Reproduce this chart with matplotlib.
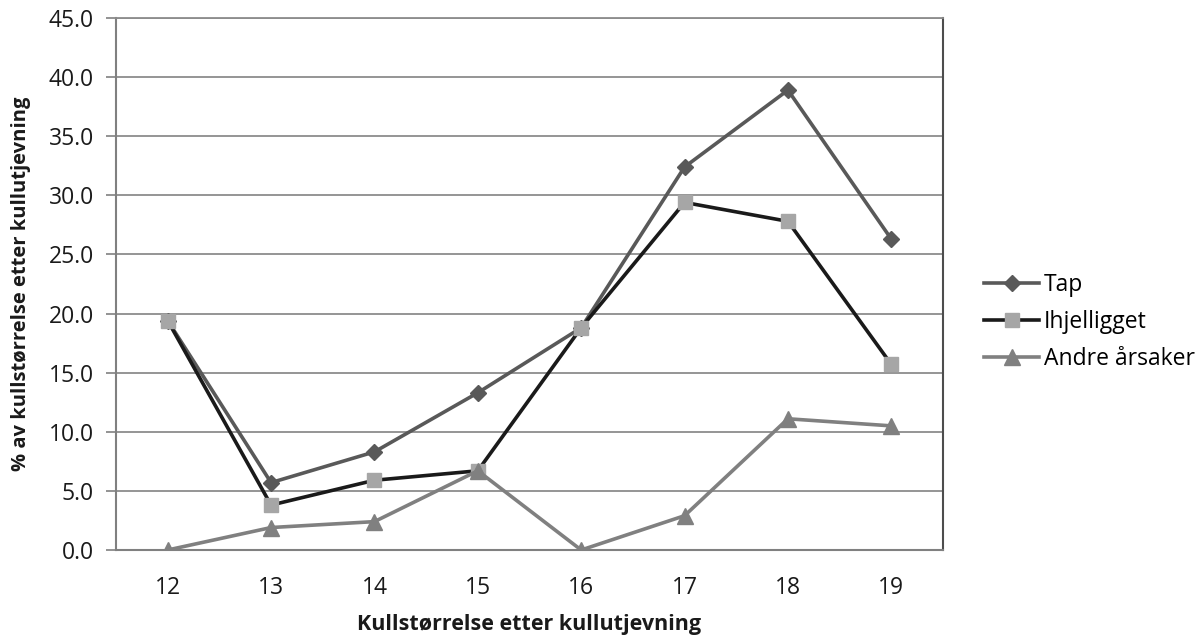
import matplotlib
matplotlib.use("Agg")
import matplotlib.pyplot as plt

categories = ["12", "13", "14", "15", "16", "17", "18", "19"]
tap = [19.4, 5.7, 8.3, 13.3, 18.8, 32.4, 38.9, 26.3]
ihjelligget = [19.4, 3.8, 5.9, 6.7, 18.8, 29.4, 27.8, 15.7]
andre = [0.0, 1.9, 2.4, 6.7, 0.0, 2.9, 11.1, 10.5]
yticks = [0, 5, 10, 15, 20, 25, 30, 35, 40, 45]

plt.rcParams['font.family'] = ['Open Sans', 'DejaVu Sans']

fig = plt.figure(figsize=(12.04, 6.42), dpi=100)
ax = fig.add_axes([116/1204, 1-550/642, (943-116)/1204, (550-18)/642])

x = list(range(len(categories)))
ax.plot(x, tap, color='#595959', lw=2.6, marker='D', ms=8, mfc='#595959', mec='#595959', label='Tap', zorder=3)
ax.plot(x, ihjelligget, color='#1a1a1a', lw=2.6, marker='s', ms=10, mfc='#a6a6a6', mec='#a6a6a6', label='Ihjelligget', zorder=4)
ax.plot(x, andre, color='#808080', lw=2.6, marker='^', ms=11, mfc='#808080', mec='#808080', label='Andre årsaker', zorder=5)

ax.set_xlim(-0.5, len(categories) - 0.5)
ax.set_ylim(0, 45)
ax.set_xticks(x)
ax.set_xticklabels(categories)
ax.set_yticks(yticks)
ax.set_yticklabels([f"{v:.1f}" for v in yticks])
ax.tick_params(axis='x', length=0, pad=19, labelsize=16.5, colors='#1a1a1a')
ax.tick_params(axis='y', length=7, width=1.2, color='#808080', pad=9, labelsize=16.5, labelcolor='#1a1a1a')
ax.grid(axis='y', color='#8c8c8c', lw=1.3, zorder=0)
for s in ax.spines.values():
    s.set_color('#4d4d4d')
    s.set_linewidth(1.5)
ax.spines['left'].set_color('#808080')
ax.spines['bottom'].set_color('#808080')
ax.spines['top'].set_color('#8c8c8c')
ax.spines['top'].set_linewidth(1.3)

ax.set_xlabel('Kullstørrelse etter kullutjevning', fontsize=15.5, fontweight='bold', labelpad=10, color='#1a1a1a')
ax.set_ylabel('% av kullstørrelse etter kullutjevning', fontsize=14.5, fontweight='bold', color='#1a1a1a')
ax.yaxis.set_label_coords((31 - 116) / 826, 0.5)

leg = ax.legend(loc='center left', bbox_to_anchor=((983 - 116) / 826, (550 - 322) / 532), frameon=False, fontsize=16.5,
                handlelength=2.4, labelspacing=0.55, handletextpad=0.2, borderaxespad=0.0, borderpad=0.0)

fig.savefig('out.png', dpi=100, facecolor='white')
